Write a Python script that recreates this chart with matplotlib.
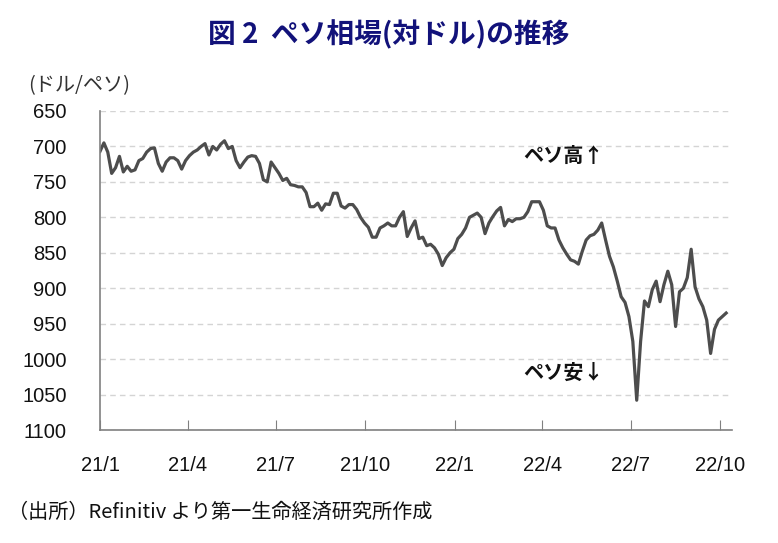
import numpy as np
import pandas as pd
import matplotlib
matplotlib.use("Agg")
import matplotlib.pyplot as plt

plt.rcParams['font.family'] = ['Noto Sans CJK JP', 'DejaVu Sans']

# ペソ相場（ドル/ペソ）、2021/1/1 から4日おきに読み取った値
start = '2021-01-01'
step = '4D'
peso = [
    707, 695, 708, 738, 730, 714, 736, 728, 735, 733,
    720, 717, 708, 703, 702, 724, 735, 722, 716, 716,
    720, 732, 720, 713, 708, 705, 700, 696, 712, 700,
    705, 697, 692, 703, 700, 720, 730, 722, 715, 713,
    714, 724, 747, 750, 722, 730, 738, 748, 745, 754,
    755, 757, 757, 765, 785, 785, 780, 790, 781, 782,
    766, 766, 784, 787, 782, 782, 789, 800, 808, 814,
    828, 828, 815, 812, 808, 812, 812, 800, 792, 827,
    815, 805, 830, 828, 840, 838, 843, 852, 868, 857,
    850, 845, 830, 824, 815, 800, 797, 794, 800, 823,
    808, 799, 791, 786, 812, 803, 806, 802, 802, 800,
    792, 778, 778, 778, 790, 812, 815, 815, 832, 843,
    852, 860, 862, 866, 848, 832, 826, 824, 818, 808,
    832, 855, 870, 890, 912, 920, 940, 975, 1058, 975,
    918, 926, 902, 890, 919, 895, 876, 895, 954, 905,
    900, 885, 845, 898, 915, 926, 945, 992, 958, 945,
    940, 935,
]
dates = pd.date_range(start, periods=len(peso), freq=step)

tick_dates = pd.to_datetime(['2021-01-01', '2021-04-01', '2021-07-01', '2021-10-01',
                             '2022-01-01', '2022-04-01', '2022-07-01', '2022-10-01'])
tick_labels = ['21/1', '21/4', '21/7', '21/10', '22/1', '22/4', '22/7', '22/10']
y_ticks = list(range(650, 1101, 50))

fig = plt.figure(figsize=(7.78, 5.43), dpi=100)
ax = fig.add_axes([100/778, 113/543, 632/778, 319/543])

ax.plot(dates, peso, color='#4d4d4d', lw=2.3)

ax.set_xlim(pd.Timestamp('2021-01-01'), pd.Timestamp('2022-10-13'))
ax.set_ylim(1100, 650)
ax.set_yticks(y_ticks)
ax.set_xticks(tick_dates)
ax.set_xticklabels(tick_labels)

for s in ['top', 'right']:
    ax.spines[s].set_visible(False)
for s in ['left', 'bottom']:
    ax.spines[s].set_color('#808080')
    ax.spines[s].set_linewidth(1.2)

ax.yaxis.grid(True, color='#d4d4d4', linestyle=(0, (4, 3)), lw=1)
ax.set_axisbelow(True)
ax.tick_params(axis='y', length=0, pad=24, labelsize=14.5, labelcolor='#111111')
ax.tick_params(axis='x', direction='in', length=7, color='#808080', pad=19,
               labelsize=14.5, labelcolor='#111111')
for lab in ax.get_xticklabels() + ax.get_yticklabels():
    lab.set_family(['Liberation Sans Narrow', 'Liberation Sans'])

fig.text(389/778, 1 - 35/543, '図 2  ペソ相場(対ドル)の推移', ha='center', va='center',
         fontsize=20, fontweight='bold', color='#12127a')
fig.text(28/778, 1 - 86/543, '(ドル/ペソ)', ha='left', va='center',
         fontsize=14.5, color='#333333')
fig.text(523/778, 1 - 155/543, 'ペソ高↑', ha='left', va='center',
         fontsize=14.5, fontweight='bold', color='#111111')
fig.text(523/778, 1 - 372/543, 'ペソ安↓', ha='left', va='center',
         fontsize=14.5, fontweight='bold', color='#111111')
fig.text(8/778, 1 - 512/543, '（出所）Refinitiv より第一生命経済研究所作成', ha='left', va='center',
         fontsize=14.5, color='#111111')

fig.savefig('out.png', dpi=100)
